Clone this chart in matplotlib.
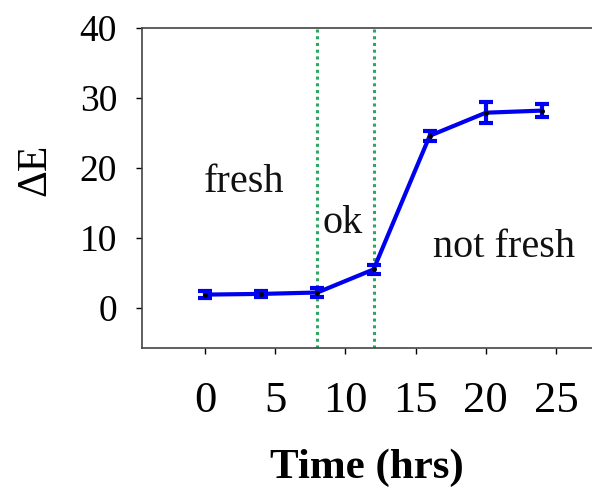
import numpy as np
import matplotlib.pyplot as plt

# data
time_hrs = [0, 4, 8, 12, 16, 20, 24]
delta_e = [1.9, 2.0, 2.2, 5.5, 24.6, 27.9, 28.2]
delta_e_err = [0.5, 0.4, 0.6, 0.6, 0.7, 1.5, 0.9]
boundaries = [8, 12]
region_labels = ['fresh', 'ok', 'not fresh']
region_pos = [(-0.1, 16.6), (8.35, 10.7), (16.2, 7.3)]
xticks = [0, 5, 10, 15, 20, 25]
yticks = [0, 10, 20, 30, 40]

plt.rcParams['font.family'] = ['Liberation Serif', 'DejaVu Serif']

fig = plt.figure(figsize=(5.92, 4.92), dpi=100)
ax = fig.add_axes([0.240, 0.293, 0.760, 0.650])

for b in boundaries:
    ax.axvline(b, color='#2aa860', linestyle=(0, (1, 1.2)), linewidth=2.2, zorder=1)

ax.errorbar(time_hrs, delta_e, yerr=delta_e_err, color='#0000f0', linewidth=3,
            elinewidth=3, capsize=5, capthick=3, marker='o', markersize=2.5,
            markerfacecolor='black', markeredgecolor='black', zorder=3)

for lab, (x, y) in zip(region_labels, region_pos):
    ax.text(x, y, lab, fontsize=29, va='baseline', ha='left', color='#111111')

ax.set_xlim(-4.49, 27.56)
ax.set_ylim(-5.71, 40)
ax.set_xticks(xticks)
ax.set_yticks(yticks)

ax.spines['right'].set_visible(False)
for s in ['left', 'top', 'bottom']:
    ax.spines[s].set_color('#444444')
    ax.spines[s].set_linewidth(1.2)

ax.tick_params(axis='x', labelsize=32, pad=20, length=4, direction='out', width=1)
ax.tick_params(axis='y', labelsize=27, pad=14, length=4, direction='out', width=1)

ax.set_xlabel('Time (hrs)', fontsize=31, fontweight='bold', labelpad=20)
ax.set_ylabel('ΔE', fontsize=30, labelpad=18)
ax.yaxis.label.set_y(0.556)

fig.savefig('out.png', dpi=100)
